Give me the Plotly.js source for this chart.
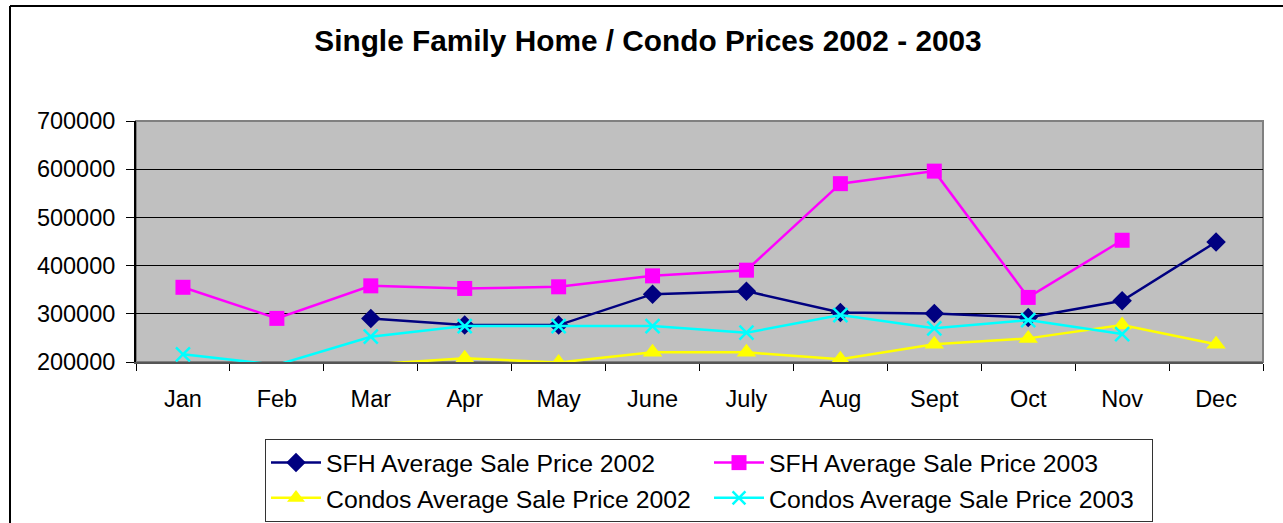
<!DOCTYPE html>
<html>
<head>
<meta charset="utf-8">
<script src="https://cdn.plot.ly/plotly-3.0.1.min.js"></script>
<style>html,body{margin:0;padding:0;background:#fff;}#chart{width:1283px;height:523px;}</style>
</head>
<body>
<div id="chart"></div>
<script>
const months = ["Jan","Feb","Mar","Apr","May","June","July","Aug","Sept","Oct","Nov","Dec"];
const sfh2002 = [null, null, 290500, 276600, 276600, 340800, 347000, 302900, 300800, 292500, 327000, 449000];
const sfh2003 = [355000, 290500, 358000, 352600, 356000, 378700, 390500, 570000, 596000, 334000, 452600, null];
const condo2002 = [null, null, 195000, 207600, 199000, 220000, 220000, 205600, 237000, 249000, 276600, 237000];
const condo2003 = [216000, 194000, 252400, 274500, 274500, 274500, 260700, 297300, 269800, 287000, 258000, null];
const yTicks = [200000, 300000, 400000, 500000, 600000, 700000];
const yMin = 200000, yMax = 700000;

const FONT = "Liberation Sans, Arial, sans-serif";

// Hide markers whose value falls below the visible axis range (as the source chart does)
function sizes(vals, s) { return vals.map(v => (v !== null && v < yMin - 2000) ? 0 : s); }

function tr(name, y, color, symbol, size, lineMarker) {
  const m = {color: color, symbol: symbol, size: sizes(y, size), opacity: 1,
             line: lineMarker ? {color: color, width: 2.5} : {width: 0, color: color}};
  return {
    type: "scatter", mode: "lines+markers", name: name,
    x: months, y: y, connectgaps: false, cliponaxis: true,
    line: {color: color, width: 2.5},
    marker: m
  };
}

const data = [
  tr("SFH Average Sale Price 2002", sfh2002, "#000080", "diamond", 15),
  tr("SFH Average Sale Price 2003", sfh2003, "#FF00FF", "square", 15),
  tr("Condos Average Sale Price 2002", condo2002, "#FFFF00", "triangle-up", 17),
  tr("Condos Average Sale Price 2003", condo2003, "#00FFFF", "x-thin-open", 14, true)
];

const L = 136, R = 1263, T = 121, B = 362;
const pw = R - L, ph = B - T;
function px(x) { return (x - L) / pw; }
function py(y) { return (B - y) / ph; }

const layout = {
  width: 1283, height: 523,
  margin: {l: L, r: 1283 - R, t: T, b: 523 - B, autoexpand: false},
  paper_bgcolor: "#ffffff",
  plot_bgcolor: "#C0C0C0",
  font: {family: FONT, color: "#000", size: 23.5},
  showlegend: true,
  title: {
    text: "<b>Single Family Home / Condo Prices 2002 - 2003</b>",
    font: {family: FONT, size: 29.8, color: "#000"},
    x: 648 / 1283, xref: "container", xanchor: "center",
    y: 1 - 41 / 523, yref: "container", yanchor: "middle"
  },
  xaxis: {
    type: "category", categoryorder: "array", categoryarray: months,
    range: [-0.5, 11.5], tickson: "boundaries",
    ticks: "outside", ticklen: 7, tickwidth: 1, tickcolor: "#000",
    showgrid: false, zeroline: false,
    showline: true, linecolor: "#555", linewidth: 2,
    tickfont: {family: FONT, size: 23.5, color: "#000"},
    ticklabelstandoff: 15,
    fixedrange: true
  },
  yaxis: {
    range: [yMin, yMax], tickvals: yTicks, ticktext: yTicks.map(String),
    ticks: "outside", ticklen: 8, tickwidth: 1, tickcolor: "#000",
    showgrid: true, gridcolor: "#000", gridwidth: 1,
    zeroline: false, showline: true, linecolor: "#000", linewidth: 2,
    tickfont: {family: FONT, size: 23.5, color: "#000"},
    ticklabelstandoff: 6,
    fixedrange: true
  },
  legend: {
    orientation: "h",
    x: px(265), xanchor: "left",
    y: py(439), yanchor: "top",
    bgcolor: "#fff", bordercolor: "#333", borderwidth: 1,
    font: {family: FONT, size: 24.8, color: "#000"},
    entrywidth: 378, entrywidthmode: "pixels",
    tracegroupgap: 0, itemwidth: 50,
    traceorder: "normal"
  },
  shapes: [
    {type: "rect", xref: "paper", yref: "paper", x0: 0, x1: 1, y0: 0, y1: 1,
     line: {color: "#808080", width: 2}, fillcolor: "rgba(0,0,0,0)", layer: "below"},
    {type: "line", xref: "paper", yref: "paper", x0: px(10), x1: px(1300), y0: py(6), y1: py(6),
     line: {color: "#000", width: 2}},
    {type: "line", xref: "paper", yref: "paper", x0: px(10), x1: px(10), y0: py(6), y1: py(540),
     line: {color: "#000", width: 2}}
  ]
};

Plotly.newPlot("chart", data, layout, {displayModeBar: false, staticPlot: true});
</script>
</body>
</html>
